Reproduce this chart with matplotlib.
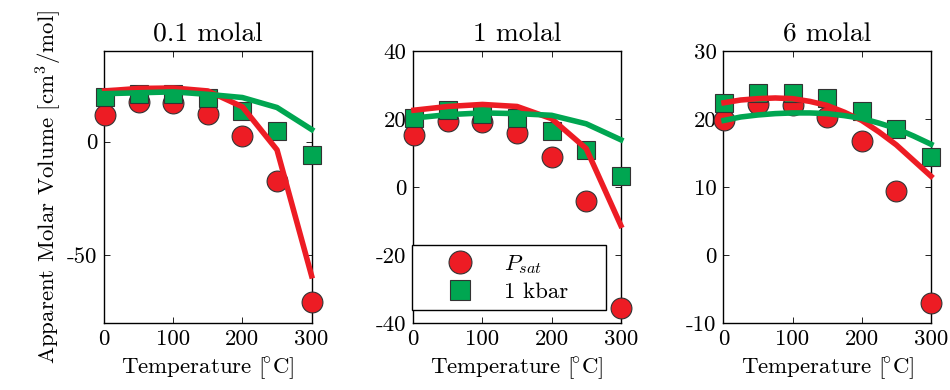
import matplotlib
matplotlib.use("Agg")
import matplotlib.pyplot as plt

plt.rcParams['font.family'] = ['cmr10', 'DejaVu Serif']
plt.rcParams['mathtext.fontset'] = 'cm'
plt.rcParams['axes.unicode_minus'] = False
plt.rcParams['font.size'] = 16.5

# Temperatures (deg C) for data points and model curves
temps = [1, 50, 100, 150, 200, 250, 300]
temps_fine = [1, 25, 50, 75, 100, 125, 150, 175, 200, 225, 250, 275, 300]

# 0.1 molal
psat_01 = [12.0, 17.5, 17.1, 12.4, 2.5, -17.5, -70.6]
kbar_01 = [19.7, 21.2, 21.2, 19.3, 13.5, 4.8, -5.8]
psat_fit_01 = [22.4, 23.5, 23.7, 22.4, 15.4, -3.6, -59.2]
kbar_fit_01 = [21.2, 21.6, 22.0, 20.9, 19.5, 15.1, 5.4]

# 1 molal
psat_1 = [15.2, 19.5, 19.1, 15.9, 8.8, -4.2, -35.5]
kbar_1 = [20.2, 22.6, 21.6, 20.2, 16.4, 10.8, 3.3]
psat_fit_1 = [22.6, 23.7, 24.3, 23.7, 20.1, 11.3, -11.3]
kbar_fit_1 = [20.3, 21.3, 21.8, 21.6, 21.1, 18.6, 13.9]

# 6 molal
psat_6 = [19.9, 22.2, 22.1, 20.3, 16.8, 9.4, -7.0]
kbar_6 = [22.4, 23.8, 23.8, 23.1, 21.2, 18.6, 14.4]
psat_fit_6 = [22.4, 22.8, 23.0, 23.1, 23.0, 22.6, 22.0, 21.0, 19.8, 18.1, 16.2, 13.9, 11.6]
kbar_fit_6 = [19.8, 20.3, 20.6, 20.8, 20.9, 20.9, 20.8, 20.5, 20.1, 19.4, 18.6, 17.5, 16.3]

RED = '#ED1C24'
GREEN = '#00A651'

panels = [
    ('0.1 molal', temps, psat_01, kbar_01, temps, psat_fit_01, kbar_fit_01, (-80, 40), [-50, 0]),
    ('1 molal', temps, psat_1, kbar_1, temps, psat_fit_1, kbar_fit_1, (-40, 40), [-40, -20, 0, 20, 40]),
    ('6 molal', temps, psat_6, kbar_6, temps_fine, psat_fit_6, kbar_fit_6, (-10, 30), [-10, 0, 10, 20, 30]),
]

fig = plt.figure(figsize=(9.5, 3.9), dpi=100)
lefts = [0.1095, 0.435, 0.7614]

for i, (title, t, psat, kbar, tf, psat_fit, kbar_fit, ylim, yticks) in enumerate(panels):
    ax = fig.add_axes([lefts[i], 0.172, 0.2185, 0.697])
    ax.plot(t, psat, 'o', color=RED, markeredgecolor='#333333', markeredgewidth=0.8,
            markersize=15, clip_on=False, zorder=3, label=r'$P_{sat}$')
    ax.plot(t, kbar, 's', color=GREEN, markeredgecolor='#333333', markeredgewidth=0.8,
            markersize=13, clip_on=False, zorder=4, label='1 kbar')
    ax.plot(tf, psat_fit, '-', color=RED, linewidth=4, clip_on=False, zorder=5)
    ax.plot(tf, kbar_fit, '-', color=GREEN, linewidth=4, clip_on=False, zorder=6)

    ax.set_xlim(0, 300)
    ax.set_ylim(*ylim)
    ax.set_xticks([0, 100, 200, 300])
    ax.set_yticks(yticks)
    ax.tick_params(direction='in', top=True, right=True, length=4, width=0.6, pad=5)
    for s in ax.spines.values():
        s.set_linewidth(1.0)
    ax.set_title(title, pad=7)
    ax.set_xlabel(r'Temperature $[\!^{\circ}\mathrm{C}]$', labelpad=4)
    if i == 0:
        ax.set_ylabel(r'Apparent Molar Volume [cm$^3$/mol]', labelpad=2)
    if i == 1:
        leg = ax.legend(loc='lower left', bbox_to_anchor=(-0.008, 0.047, 0.936, 0.236),
                        mode='expand', borderaxespad=0, fancybox=False, edgecolor='black',
                        framealpha=1, borderpad=0.35, labelspacing=0.25, handlelength=3.5,
                        handletextpad=0.2, markerscale=1.1)
        leg.get_frame().set_linewidth(1.0)

fig.savefig('out.png', dpi=100)
